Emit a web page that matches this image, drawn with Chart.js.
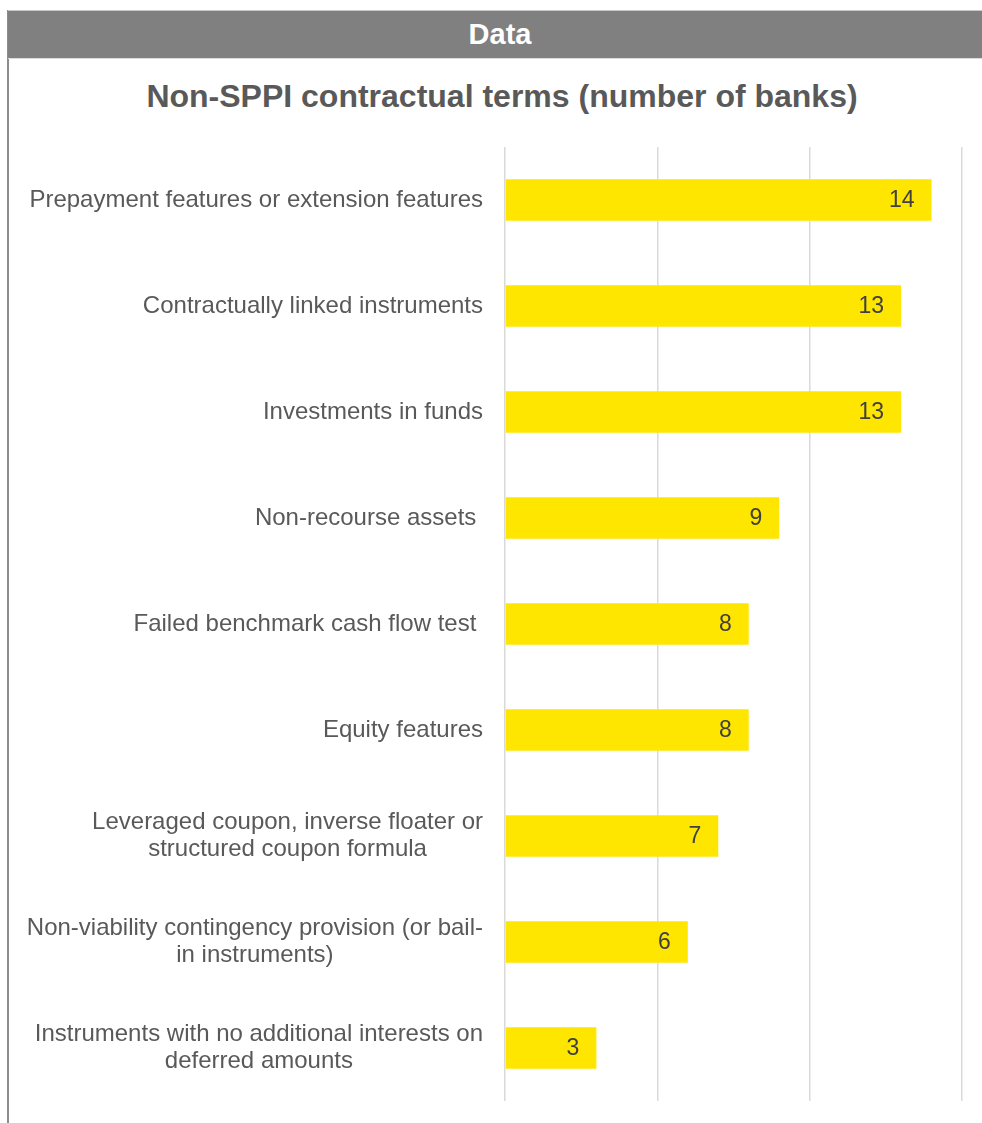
<!DOCTYPE html>
<html>
<head>
<meta charset="utf-8">
<title>Non-SPPI contractual terms</title>
<script src="https://cdn.jsdelivr.net/npm/chart.js@4/dist/chart.umd.min.js"></script>
<style>
    html, body {
        margin: 0;
        padding: 0;
        width: 982px;
        height: 1123px;
        overflow: hidden;
        background: #ffffff;
        font-family: 'Liberation Sans', Arial, sans-serif;
    }
    #frame-line {
        position: absolute;
        left: 7px;
        top: 10px;
        width: 2px;
        height: 1113px;
        background: #8c8c8c;
    }
    #header {
        position: absolute;
        left: 8px;
        top: 10px;
        width: 984px;
        height: 47px;
        background: #808080;
        border-top: 1px solid #c8c8c8;
        border-bottom: 1px solid #dcdcdc;
        color: #ffffff;
        font-weight: bold;
        font-size: 29px;
        line-height: 47px;
        text-align: center;
    }
    #title {
        position: absolute;
        left: 8px;
        top: 76px;
        width: 988px;
        text-align: center;
        color: #595959;
        font-weight: bold;
        font-size: 32px;
        line-height: 40px;
    }
    #chart {
        position: absolute;
        left: 0;
        top: 0;
    }
</style>
</head>
<body>
<div id="frame-line"></div>
<div id="header">Data</div>
<div id="title">Non-SPPI contractual terms (number of banks)</div>
<canvas id="chart" width="982" height="1123"></canvas>

<script>
// categories, top to bottom; multi-line entries are split where the text wraps
const categories = [
    ['Prepayment features or extension features'],
    ['Contractually linked instruments'],
    ['Investments in funds'],
    ['Non-recourse assets '],
    ['Failed benchmark cash flow test '],
    ['Equity features'],
    ['Leveraged coupon, inverse floater or', 'structured coupon formula'],
    ['Non-viability contingency provision (or bail-', 'in instruments)'],
    ['Instruments with no additional interests on', 'deferred amounts']
];
const bankCounts = [14, 13, 13, 9, 8, 8, 7, 6, 3];
const axisMax = 15;
const axisStep = 5;

const FONT = "'Liberation Sans', Arial, sans-serif";

// category labels: block right-aligned to the axis, lines centred inside the block
const categoryLabels = {
    id: 'categoryLabels',
    afterDraw(chart) {
        const ctx = chart.ctx;
        const yScale = chart.scales.y;
        const right = chart.scales.x.left - 22;
        const lineHeight = 27;
        ctx.save();
        ctx.font = '24px ' + FONT;
        ctx.fillStyle = '#595959';
        ctx.textAlign = 'center';
        ctx.textBaseline = 'middle';
        categories.forEach((lines, i) => {
            const widest = Math.max(...lines.map(l => ctx.measureText(l).width));
            const cx = right - widest / 2;
            const cy = yScale.getPixelForValue(i);
            const top = cy - (lines.length - 1) * lineHeight / 2;
            lines.forEach((line, j) => {
                ctx.fillText(line, cx, top + j * lineHeight);
            });
        });
        ctx.restore();
    }
};

// value printed inside the end of each bar
const valueLabels = {
    id: 'valueLabels',
    afterDatasetsDraw(chart) {
        const ctx = chart.ctx;
        const meta = chart.getDatasetMeta(0);
        ctx.save();
        ctx.font = '23px ' + FONT;
        ctx.fillStyle = '#404040';
        ctx.textAlign = 'right';
        ctx.textBaseline = 'middle';
        meta.data.forEach((bar, i) => {
            ctx.fillText(String(bankCounts[i]), bar.x - 17, bar.y + 1);
        });
        ctx.restore();
    }
};

new Chart(document.getElementById('chart').getContext('2d'), {
    type: 'bar',
    data: {
        labels: categories.map(c => c.join(' ')),
        datasets: [{
            data: bankCounts,
            backgroundColor: '#FFE600',
            borderWidth: 0,
            barPercentage: 0.39,
            categoryPercentage: 1.0
        }]
    },
    options: {
        indexAxis: 'y',
        responsive: false,
        animation: false,
        devicePixelRatio: 1,
        layout: {
            padding: { left: 505, right: 20, top: 147, bottom: 22 }
        },
        scales: {
            x: {
                min: 0,
                max: axisMax,
                ticks: { display: false, stepSize: axisStep },
                grid: { color: '#d9d9d9', lineWidth: 1.5, drawTicks: false },
                border: { display: false }
            },
            y: {
                display: false
            }
        },
        plugins: {
            legend: { display: false },
            tooltip: { enabled: false },
            title: { display: false }
        }
    },
    plugins: [valueLabels, categoryLabels]
});
</script>
</body>
</html>
